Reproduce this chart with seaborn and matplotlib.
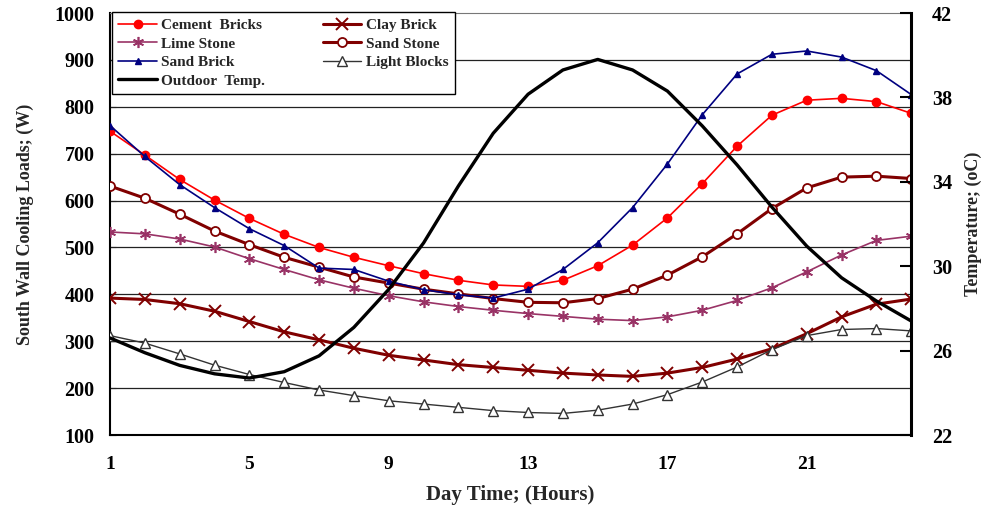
import matplotlib
matplotlib.use("Agg")
import matplotlib.pyplot as plt
import seaborn as sns
import pandas as pd

hours = list(range(1, 25))

cement_bricks = [748, 697, 645, 601, 562, 528, 500, 479, 461, 444, 430, 420,
                 417, 430, 461, 505, 563, 636, 716, 782, 814, 818, 811, 786]
clay_brick = [392, 389, 380, 364, 342, 320, 303, 285, 270, 260, 250, 244,
              238, 232, 228, 225, 232, 244, 262, 284, 316, 352, 379, 390]
lime_stone = [533, 529, 518, 501, 476, 453, 431, 413, 397, 384, 374, 366,
              359, 353, 347, 344, 352, 366, 387, 414, 448, 484, 515, 524]
sand_stone = [631, 605, 571, 535, 506, 479, 458, 437, 424, 411, 401, 391,
              383, 382, 391, 411, 441, 480, 529, 583, 627, 650, 652, 647]
sand_brick = [760, 694, 634, 585, 540, 504, 456, 453, 428, 410, 399, 392,
              411, 453, 510, 585, 678, 783, 870, 912, 919, 906, 877, 826]
light_blocks = [312, 296, 273, 249, 229, 212, 196, 184, 173, 166, 159, 152,
                148, 146, 153, 166, 186, 213, 245, 282, 312, 325, 327, 322]
outdoor_temp = [26.6, 25.9, 25.3, 24.9, 24.7, 25.0, 25.75, 27.1, 28.9, 31.1, 33.8, 36.3,
                38.15, 39.3, 39.8, 39.3, 38.3, 36.65, 34.8, 32.8, 30.95, 29.45, 28.35, 27.4]

x_ticks = [1, 5, 9, 13, 17, 21]
load_ticks = list(range(100, 1001, 100))
temp_ticks = [22, 26, 30, 34, 38, 42]

loads = pd.DataFrame({
    "hour": hours,
    "Cement  Bricks": cement_bricks,
    "Clay Brick": clay_brick,
    "Lime Stone": lime_stone,
    "Sand Stone": sand_stone,
    "Sand Brick": sand_brick,
    "Light Blocks": light_blocks,
})
temps = pd.DataFrame({"hour": hours, "Outdoor  Temp.": outdoor_temp})

sns.set_theme(style="white")
plt.rcParams["font.family"] = ["Liberation Serif", "DejaVu Serif"]
plt.rcParams["font.weight"] = "bold"

styles = {
    "Cement  Bricks": dict(color="#ff0000", lw=1.2, marker="o", ms=6, mfc="#ff0000", mec="#ff0000"),
    "Clay Brick": dict(color="#800000", lw=2.2, marker="x", ms=8, mew=1.4, mec="#800000"),
    "Lime Stone": dict(color="#993366", lw=1.2, marker=(6, 2, 0), ms=8, mew=1.2, mec="#993366"),
    "Sand Stone": dict(color="#800000", lw=2.2, marker="o", ms=6.5, mfc="white", mec="#800000", mew=1.3),
    "Sand Brick": dict(color="#000080", lw=1.2, marker="^", ms=5, mfc="#000080", mec="#000080"),
    "Light Blocks": dict(color="#333333", lw=1.0, marker="^", ms=7, mfc="white", mec="#333333", mew=1.0),
}

fig = plt.figure(figsize=(9.82, 5.08), dpi=100)
ax = fig.add_axes([0.112, 0.1437, 0.816, 0.8307])

handles = {}
for name, st in styles.items():
    sns.lineplot(data=loads, x="hour", y=name, ax=ax, color=st["color"], lw=st["lw"],
                 marker=st["marker"], markersize=st["ms"],
                 markerfacecolor=st.get("mfc", "none"), markeredgecolor=st["mec"],
                 markeredgewidth=st.get("mew", 1.0), label=name, legend=False, zorder=3)
    handles[name] = ax.lines[-1]

ax.set_xlim(1, 24)
ax.set_ylim(100, 1000)
ax.set_xticks(x_ticks)
ax.set_yticks(load_ticks)
ax.set_yticklabels([str(v) for v in load_ticks])
for v in load_ticks[1:-1]:
    ax.axhline(v, color="#222222", lw=0.9, zorder=1)

ax.set_xlabel("Day Time; (Hours)", fontsize=15, fontweight="bold", labelpad=9)
ax.set_ylabel("South Wall Cooling Loads; (W)", fontsize=13, fontweight="bold", labelpad=15)
ax.tick_params(axis="x", direction="in", length=6, width=0.8, pad=15, labelsize=14, colors="black")
ax.tick_params(axis="y", direction="in", length=4, width=0.8, pad=11, labelsize=14.5, colors="black")
for lab in ax.get_xticklabels() + ax.get_yticklabels():
    lab.set_fontweight("bold")

for side in ["left", "bottom"]:
    ax.spines[side].set_color("black")
    ax.spines[side].set_linewidth(1.5)
ax.spines["top"].set_color("#777777")
ax.spines["top"].set_linewidth(0.8)
ax.spines["right"].set_visible(False)

ax2 = ax.twinx()
sns.lineplot(data=temps, x="hour", y="Outdoor  Temp.", ax=ax2, color="black", lw=2.4,
             label="Outdoor  Temp.", legend=False, zorder=4)
handles["Outdoor  Temp."] = ax2.lines[-1]
ax2.set_ylim(22, 42)
ax2.set_yticks(temp_ticks)
ax2.set_ylabel("Temperature; (oC)", fontsize=13, fontweight="bold", labelpad=9)
ax2.tick_params(axis="y", direction="in", length=8, width=1.5, pad=15, labelsize=14.5, colors="black")
for lab in ax2.get_yticklabels():
    lab.set_fontweight("bold")
ax2.spines["right"].set_color("black")
ax2.spines["right"].set_linewidth(2.2)
for side in ["left", "bottom", "top"]:
    ax2.spines[side].set_visible(False)
ax2.grid(False)

order = ["Cement  Bricks", "Lime Stone", "Sand Brick", "Outdoor  Temp.",
         "Clay Brick", "Sand Stone", "Light Blocks"]
leg = ax2.legend([handles[k] for k in order], order, ncol=2, loc="upper left",
                 bbox_to_anchor=(0.003, 1.002), frameon=True, fancybox=False,
                 edgecolor="black", framealpha=1, borderaxespad=0,
                 prop={"family": "Liberation Serif", "weight": "bold", "size": 11},
                 handlelength=2.5, columnspacing=3.8, labelspacing=0.32,
                 borderpad=0.4, handletextpad=0.3)
leg.get_frame().set_linewidth(1.0)
leg.set_zorder(10)

fig.savefig("out.png", dpi=100)
